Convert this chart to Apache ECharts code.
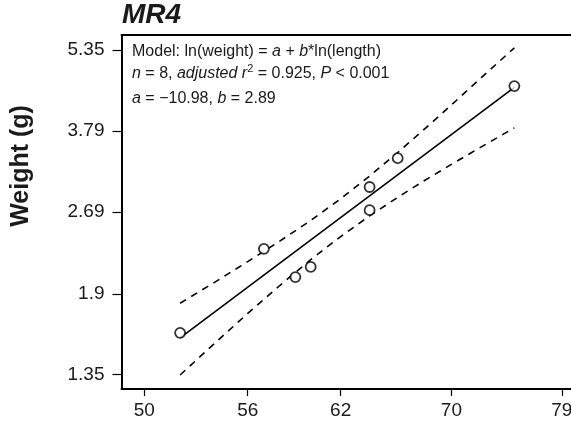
<!DOCTYPE html>
<html>
<head>
<meta charset="utf-8">
<script src="https://cdn.jsdelivr.net/npm/echarts@6/dist/echarts.min.js"></script>
<style>
html,body{margin:0;padding:0;background:#fff;overflow:hidden;}
#chart{width:571px;height:426px;}
</style>
</head>
<body>
<div id="chart"></div>
<script>
// ---- data ----
var lengthMM = [52, 57, 59, 60, 64, 64, 66, 75];
var weightG  = [1.61, 2.30, 2.04, 2.13, 2.99, 2.71, 3.38, 4.59];

var fitLength = [52, 75];
var fitWeight = [1.575, 4.563];

var ciLength = [52, 54, 56, 58, 60, 62, 64, 66, 68, 70, 72, 75];
var ciUpper  = [1.825, 1.995, 2.178, 2.376, 2.594, 2.844, 3.133, 3.462, 3.830, 4.236, 4.680, 5.400];
var ciLower  = [1.346, 1.539, 1.748, 1.968, 2.196, 2.423, 2.645, 2.862, 3.077, 3.291, 3.509, 3.844];

var xTickLabels = ['50', '56', '62', '70', '79'];
var yTickLabels = ['1.35', '1.9', '2.69', '3.79', '5.35'];

var titleText = 'MR4';
var yTitle = 'Weight (g)';
var noteLines = [
  'Model: ln(weight) = {i|a} + {i|b}*ln(length)',
  '{i|n} = 8, {i|adjusted r}{s|2} = 0.925, {i|P} < 0.001',
  '{i|a} = \u221210.98, {i|b} = 2.89'
];

// ---- build ----
var ln = Math.log;
function pairs(xs, ys) { return xs.map(function (x, i) { return [ln(x), ln(ys[i])]; }); }
function labelFor(list) {
  return function (v) {
    var best = list[0], bd = Infinity;
    list.forEach(function (s) { var d = Math.abs(ln(parseFloat(s)) - v); if (d < bd) { bd = d; best = s; } });
    return best;
  };
}
var FONT = 'Liberation Sans, Arial, Helvetica, sans-serif';
var TXT = '#1a1a1a';
var xVals = xTickLabels.map(function (s) { return ln(parseFloat(s)); });
var yVals = yTickLabels.map(function (s) { return ln(parseFloat(s)); });
var XMIN = 3.88704, XMAX = 4.40145;

var rich = {
  i: { fontStyle: 'italic', fontSize: 16, fontFamily: FONT, fill: TXT },
  s: { fontSize: 11, fontFamily: FONT, fill: TXT, verticalAlign: 'top' }
};
var noteY = [51.5, 73.5, 99];
var noteGraphics = noteLines.map(function (t, k) {
  return { type: 'text', x: 132, y: noteY[k],
    style: { text: t, font: '16px ' + FONT, fill: TXT, verticalAlign: 'middle', lineHeight: 20, rich: rich } };
});

var chart = echarts.init(document.getElementById('chart'), null, { renderer: 'canvas' });
chart.setOption({
  animation: false,
  backgroundColor: '#fff',
  grid: { left: 121.5, top: 35, right: -20, bottom: 37, show: false, containLabel: false, outerBoundsMode: 'none' },
  xAxis: [{
    type: 'value', min: XMIN, max: XMAX, position: 'bottom',
    axisLine: { show: true, onZero: false, lineStyle: { color: '#000', width: 2 } },
    axisTick: { show: true, inside: false, length: 7, lineStyle: { color: '#000', width: 1.2 }, customValues: xVals },
    axisLabel: { show: true, margin: 12, fontSize: 19, fontFamily: FONT, color: TXT,
      customValues: xVals, formatter: labelFor(xTickLabels), showMaxLabel: true, hideOverlap: false },
    splitLine: { show: false }
  }, {
    type: 'value', min: XMIN, max: XMAX, position: 'top',
    axisLine: { show: true, onZero: false, lineStyle: { color: '#000', width: 2 } },
    axisTick: { show: false }, axisLabel: { show: false }, splitLine: { show: false }
  }],
  yAxis: {
    type: 'value', min: 0.2376, max: 1.7408,
    axisLine: { show: true, onZero: false, lineStyle: { color: '#000', width: 2 } },
    axisTick: { show: true, inside: false, length: 9, lineStyle: { color: '#000', width: 1.2 }, customValues: yVals },
    axisLabel: { show: true, margin: 17, fontSize: 19, fontFamily: FONT, color: TXT,
      customValues: yVals, formatter: labelFor(yTickLabels) },
    splitLine: { show: false }
  },
  series: [
    { type: 'line', data: pairs(ciLength, ciUpper), showSymbol: false, z: 2,
      lineStyle: { color: '#000', width: 1.6, type: [7, 6] } },
    { type: 'line', data: pairs(ciLength, ciLower), showSymbol: false, z: 2,
      lineStyle: { color: '#000', width: 1.6, type: [7, 6] } },
    { type: 'line', data: pairs(fitLength, fitWeight), showSymbol: false, z: 3,
      lineStyle: { color: '#000', width: 1.6 } },
    { type: 'scatter', data: pairs(lengthMM, weightG), symbol: 'circle', symbolSize: 10, z: 5,
      itemStyle: { color: '#fff', borderColor: '#000', borderWidth: 1.8 } }
  ],
  graphic: [
    { type: 'text', left: 122, top: 1, style: { text: titleText, font: 'italic bold 28px ' + FONT, fill: TXT } },
    { type: 'text', x: 21, y: 166, rotation: Math.PI / 2,
      style: { text: yTitle, font: 'bold 25px ' + FONT, fill: TXT, align: 'center', verticalAlign: 'middle' } }
  ].concat(noteGraphics)
});
</script>
</body>
</html>
